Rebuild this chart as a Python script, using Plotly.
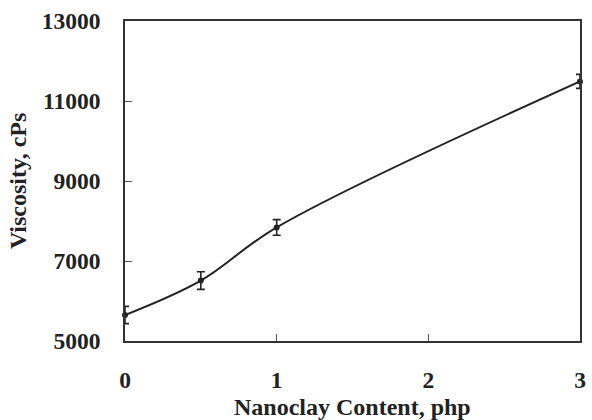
import plotly.graph_objects as go

# Nanoclay loading (php) and measured viscosity (cPs) with standard deviation
nanoclay_php = [0, 0.5, 1, 3]
viscosity_cps = [5650, 6510, 7840, 11490]
viscosity_err = [215, 220, 195, 175]

x_tick_vals = [0, 1, 2, 3]
x_tick_text = ["0", "1", "2", "3"]
y_tick_vals = [5000, 7000, 9000, 11000, 13000]
y_tick_text = ["5000", "7000", "9000", "11000", "13000"]

ink = "#222222"
font_family = "Liberation Serif, Times New Roman, serif"

fig = go.Figure()
fig.add_trace(go.Scatter(
    x=nanoclay_php,
    y=viscosity_cps,
    mode="lines+markers",
    line=dict(color=ink, width=2, shape="spline", smoothing=1.0),
    marker=dict(color=ink, size=6),
    error_y=dict(type="data", array=viscosity_err, visible=True,
                 color=ink, thickness=1.6, width=4),
    cliponaxis=False,
    showlegend=False,
))

axis_common = dict(
    showgrid=False,
    zeroline=False,
    showline=True,
    linecolor="#333333",
    linewidth=1.5,
    mirror=True,
    ticks="inside",
    ticklen=7,
    tickwidth=1,
    tickcolor="#555555",
    tickfont=dict(family=font_family, size=23.5, color=ink, weight="bold"),
)

fig.update_xaxes(
    range=[0, 3],
    tickvals=x_tick_vals,
    ticktext=x_tick_text,
    ticklabelstandoff=17,
    **axis_common,
)
fig.update_yaxes(
    range=[5000, 13000],
    tickvals=y_tick_vals,
    ticktext=y_tick_text,
    ticklabelstandoff=18,
    **axis_common,
)

fig.add_annotation(
    text="<b>Viscosity, cPs</b>", xref="paper", yref="paper",
    x=-0.235, y=0.5, xanchor="center", yanchor="middle",
    textangle=-90, showarrow=False,
    font=dict(family=font_family, size=24, color=ink),
)
fig.add_annotation(
    text="<b>Nanoclay Content, php</b>", xref="paper", yref="paper",
    x=0.5, y=-0.205, xanchor="center", yanchor="middle",
    showarrow=False,
    font=dict(family=font_family, size=24, color=ink),
)

fig.update_layout(
    width=592,
    height=420,
    margin=dict(l=125, r=6, t=21, b=79),
    paper_bgcolor="white",
    plot_bgcolor="white",
    font=dict(family=font_family, color=ink),
)

fig.write_html("out.html")
